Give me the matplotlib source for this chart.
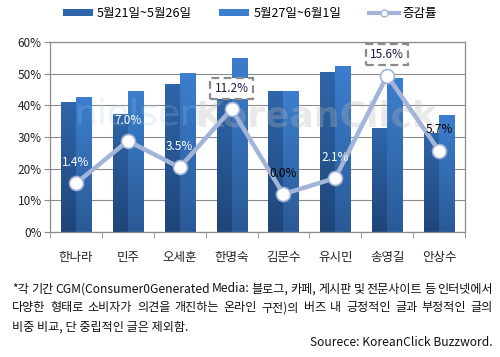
import numpy as np
import matplotlib
matplotlib.use('Agg')
import matplotlib.pyplot as plt
from matplotlib.patches import Patch
from matplotlib.lines import Line2D
from matplotlib.colors import LinearSegmentedColormap

plt.rcParams['font.family'] = ['Noto Sans CJK KR', 'DejaVu Sans']

# data
candidates = ['한나라', '민주', '오세훈', '한명숙', '김문수', '유시민', '송영길', '안상수']
week1 = [41.1, 37.3, 46.8, 44.1, 44.5, 50.6, 32.9, 31.2]
week2 = [42.7, 44.6, 50.3, 55.0, 44.5, 52.5, 48.7, 37.0]
change = [1.4, 7.0, 3.5, 11.2, 0.0, 2.1, 15.6, 5.7]
change_labels = ['1.4%', '7.0%', '3.5%', '11.2%', '0.0%', '2.1%', '15.6%', '5.7%']
label_colors = ['white', 'white', 'white', '#1c1c48', 'black', 'white', '#1c1c48', 'black']
boxed = [False, False, False, True, False, False, True, False]
series_names = ['5월21일~5월26일', '5월27일~6월1일', '증감률']
yticks = [0, 10, 20, 30, 40, 50, 60]

note_lines = [
    '*각 기간 CGM(Consumer0Generated Media: 블로그, 카페, 게시판 및 전문사이트 등 인터넷에서',
    '다양한 형태로 소비자가 의견을 개진하는 온라인 구전)의 버즈 내 긍정적인 글과 부정적인 글의',
    '비중 비교, 단 중립적인 글은 제외함.',
]
source = 'Sourece: KoreanClick Buzzword.'

c_dark = ('#1f4579', '#2f66aa')
c_light = ('#2a5a96', '#3c7fcf')
line_c = '#a2b5d8'
grid_c = '#8c8c8c'

fig = plt.figure(figsize=(5, 3.57), dpi=100)
ax = fig.add_axes([0.1, 0.35, 0.83, 0.532])

x = np.arange(len(candidates))
w = 0.29
b1 = ax.bar(x - w / 2, week1, w, color=c_dark[1], zorder=2)
b2 = ax.bar(x + w / 2, week2, w, color=c_light[1], zorder=2)

# vertical gradient inside bars
grad = np.linspace(0, 1, 256).reshape(-1, 1)
for bars, cols in ((b1, c_dark), (b2, c_light)):
    cmap = LinearSegmentedColormap.from_list('g', list(cols))
    for r in bars:
        x0, h = r.get_x(), r.get_height()
        im = ax.imshow(grad, cmap=cmap, origin='lower', aspect='auto',
                       extent=(x0, x0 + r.get_width(), 0, h), zorder=2.1)
        im.set_clip_path(r)

ax.set_xlim(-0.5, len(candidates) - 0.5)
ax.set_ylim(0, 60)
ax.set_yticks(yticks)
ax.set_yticklabels([f'{t}%' for t in yticks], fontsize=8.5, color='#222222')
ax.yaxis.grid(True, color=grid_c, linewidth=0.8, zorder=0)
ax.set_axisbelow(True)
ax.set_xticks(x)
ax.set_xticklabels(candidates, fontsize=9, color='#222222')
ax.set_xticks(np.arange(len(candidates) + 1) - 0.5, minor=True)
ax.tick_params(axis='x', which='major', length=0, pad=14)
ax.tick_params(axis='x', which='minor', length=4, color=grid_c)
ax.tick_params(axis='y', length=4, color=grid_c, pad=2)
for s in ax.spines.values():
    s.set_color(grid_c)
    s.set_linewidth(0.9)

# faint watermark (behind the line and labels)
ax.text(0.06, 0.62, 'nielsen', transform=ax.transAxes, fontsize=26, color='#9cc8e0',
        alpha=0.22, ha='left', va='center', zorder=2.5, family='DejaVu Sans')
ax.text(0.35, 0.61, 'KoreanClick', transform=ax.transAxes, fontsize=26, color='#b8b8b8',
        alpha=0.3, ha='left', va='center', fontweight='bold', zorder=2.5,
        family='DejaVu Sans')

# growth line on hidden secondary axis
ax2 = ax.twinx()
ax2.set_ylim(-5, 20)
ax2.axis('off')
ax2.plot(x, change, color=line_c, lw=3.2, marker='o', ms=10,
         mfc='white', mec=line_c, mew=1.2, zorder=3)
for xi, v, lab, col, bx in zip(x, change, change_labels, label_colors, boxed):
    kw = {}
    if bx:
        kw['bbox'] = dict(boxstyle='square,pad=0.35', fc='white', ec='#8a8a8a',
                          lw=1.6, ls=(0, (3.5, 2)))
    ax2.annotate(lab, (xi, v), xytext=(0, 15), textcoords='offset points',
                 ha='center', va='center', fontsize=8.5, color=col, zorder=5, **kw)

# legend
handles = [Patch(fc=c_dark[1], ec='none'), Patch(fc=c_light[1], ec='none'),
           Line2D([], [], color=line_c, lw=3, marker='o', ms=5, mfc='white', mec=line_c)]
fig.legend(handles, series_names, loc='center', bbox_to_anchor=(0.5, 0.962), ncol=3,
           frameon=False, fontsize=9, handlelength=2.4, handleheight=0.45,
           columnspacing=2.2, handletextpad=0.3)

# justified footnote
fs = 8.7
fig.canvas.draw()
rend = fig.canvas.get_renderer()
left, right = 12 / 500, 493 / 500
ys = [1 - 289 / 357, 1 - 308 / 357, 1 - 327 / 357]
for i, (line, yy) in enumerate(zip(note_lines, ys)):
    if i == len(note_lines) - 1:
        fig.text(left, yy, line, fontsize=fs, va='center', ha='left', color='#111111')
        continue
    words = line.split(' ')
    texts = [fig.text(0, yy, wd, fontsize=fs, va='center', ha='left', color='#111111')
             for wd in words]
    widths = [t.get_window_extent(rend).width / fig.bbox.width for t in texts]
    gap = (right - left - sum(widths)) / (len(words) - 1)
    pos = left
    for t, wd in zip(texts, widths):
        t.set_x(pos)
        pos += wd + gap
fig.text(right, 1 - 342 / 357, source, fontsize=fs, va='center', ha='right', color='#111111')

fig.savefig('out.png', dpi=100)
